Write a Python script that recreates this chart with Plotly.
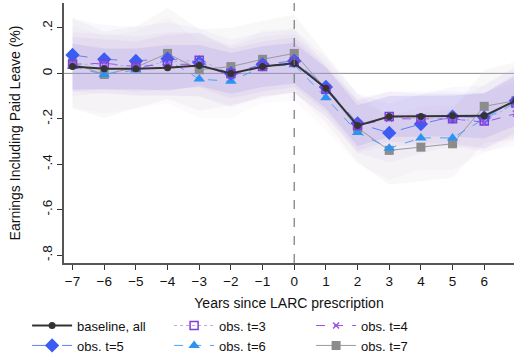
import plotly.graph_objects as go

years = [-7, -6, -5, -4, -3, -2, -1, 0, 1, 2, 3, 4, 5, 6, 7]
x_ticks = [-7, -6, -5, -4, -3, -2, -1, 0, 1, 2, 3, 4, 5, 6, 7]
y_ticks = [0.2, 0, -0.2, -0.4, -0.6, -0.8]
y_tick_text = [".2", "0", "-.2", "-.4", "-.6", "-.8"]

baseline = [0.03, 0.02, 0.02, 0.025, 0.035, 0.0, 0.03, 0.045, -0.065, -0.23, -0.19, -0.19, -0.187, -0.187, -0.12]
obs_t3 = [0.04, 0.04, 0.03, 0.05, 0.058, 0.0, 0.03, 0.05, -0.07, -0.23, -0.19, -0.2, -0.2, -0.21, -0.13]
obs_t4 = [0.04, 0.045, 0.03, 0.04, 0.04, -0.01, 0.03, 0.045, -0.07, -0.23, -0.2, -0.2, -0.2, -0.215, -0.177]
obs_t5 = [0.081, 0.062, 0.055, 0.065, 0.048, 0.0, 0.04, 0.055, -0.06, -0.22, -0.262, -0.223, -0.19, -0.194, -0.12]
obs_t6 = [0.03, -0.005, 0.015, 0.06, -0.025, -0.035, 0.03, 0.038, -0.107, -0.26, -0.33, -0.284, -0.284, -0.2, -0.13]
obs_t7 = [0.045, -0.005, 0.027, 0.088, 0.016, 0.03, 0.062, 0.088, -0.067, -0.24, -0.339, -0.325, -0.31, -0.145, -0.12]

# confidence-interval half widths
hw_base = [0.10, 0.09, 0.09, 0.10, 0.09, 0.09, 0.09, 0.09, 0.09, 0.09, 0.09, 0.09, 0.09, 0.10, 0.11]
hw_t3 = [0.12, 0.11, 0.11, 0.12, 0.12, 0.11, 0.11, 0.11, 0.10, 0.11, 0.11, 0.11, 0.11, 0.12, 0.13]
hw_t4 = [0.14, 0.13, 0.13, 0.14, 0.14, 0.13, 0.13, 0.13, 0.12, 0.12, 0.12, 0.12, 0.12, 0.13, 0.14]
hw_t5 = [0.16, 0.15, 0.15, 0.16, 0.15, 0.15, 0.14, 0.14, 0.13, 0.13, 0.13, 0.13, 0.13, 0.14, 0.15]
hw_t6 = [0.18, 0.17, 0.17, 0.19, 0.17, 0.16, 0.16, 0.16, 0.14, 0.14, 0.14, 0.14, 0.14, 0.15, 0.16]
hw_t7 = [0.20, 0.19, 0.18, 0.20, 0.18, 0.17, 0.17, 0.17, 0.15, 0.15, 0.15, 0.15, 0.15, 0.16, 0.17]

series = [
    dict(name="baseline, all", y=baseline, hw=hw_base, color="#333333", width=2, dash="solid",
         symbol="circle", size=7, band="rgba(125,105,225,0.15)"),
    dict(name="obs. t=3", y=obs_t3, hw=hw_t3, color="#7e3fd6", width=1, dash="dot",
         symbol="square-open", size=8, band="rgba(150,120,215,0.07)", line_color="#b9a8ec"),
    dict(name="obs. t=4", y=obs_t4, hw=hw_t4, color="#9a52e6", width=1, dash="dash",
         symbol="x-thin-open", size=6, band="rgba(190,160,215,0.07)"),
    dict(name="obs. t=5", y=obs_t5, hw=hw_t5, color="#3b5cf2", width=1, dash="longdash",
         symbol="diamond", size=11, band="rgba(140,140,235,0.06)", line_color="#5f80f5"),
    dict(name="obs. t=6", y=obs_t6, hw=hw_t6, color="#2d93f2", width=1, dash="dash",
         symbol="triangle-up", size=10, band="rgba(215,190,215,0.08)", line_color="#4aa6f5"),
    dict(name="obs. t=7", y=obs_t7, hw=hw_t7, color="#8c8c8c", width=1, dash="solid",
         symbol="square", size=9, band="rgba(220,215,220,0.18)", line_color="#9a9a9a"),
]

fig = go.Figure()

# bands, widest first
for s in reversed(series):
    upper = [v + h for v, h in zip(s["y"], s["hw"])]
    lower = [v - h for v, h in zip(s["y"], s["hw"])]
    fig.add_trace(go.Scatter(
        x=years + years[::-1], y=upper + lower[::-1], fill="toself",
        fillcolor=s["band"], line=dict(width=0), mode="lines",
        hoverinfo="skip", showlegend=False))

# reference lines
fig.add_shape(type="line", xref="paper", yref="y", x0=0, x1=1, y0=0, y1=0,
              line=dict(color="#8a8a8a", width=1), layer="below")
fig.add_shape(type="line", xref="x", yref="paper", x0=0, x1=0, y0=0, y1=1,
              line=dict(color="#777777", width=1.2, dash="dash"), layer="above")

draw_order = [5, 4, 3, 2, 1, 0]
for i in draw_order:
    s = series[i]
    fig.add_trace(go.Scatter(
        x=years, y=s["y"], name=s["name"], mode="lines+markers",
        line=dict(color=s.get("line_color", s["color"]), width=s["width"], dash=s["dash"]),
        marker=dict(symbol=s["symbol"], size=s["size"], color=s["color"],
                    line=dict(color=s["color"], width=1.5 if "open" in s["symbol"] else 0)),
        legendrank=i + 1))

fig.update_layout(
    width=514, height=362,
    margin=dict(l=64, r=0, t=3, b=99, autoexpand=False),
    paper_bgcolor="white", plot_bgcolor="white",
    font=dict(family="Liberation Sans, Arial, sans-serif", size=13, color="#111111"),
    showlegend=True,
    legend=dict(orientation="h", x=-0.082, xanchor="left", y=-0.183, yanchor="top",
                entrywidth=87, font=dict(size=13), tracegroupgap=0,
                itemwidth=40, traceorder="normal"),
    xaxis=dict(range=[-7.27, 6.94], tickvals=x_ticks, ticks="outside", ticklen=5,
               tickcolor="#333", showline=True, linecolor="#555", linewidth=1.5,
               showgrid=False, zeroline=False, tickfont=dict(size=13.5),
               title=dict(text="Years since LARC prescription", font=dict(size=14), standoff=10)),
    yaxis=dict(range=[-0.835, 0.31], tickvals=y_ticks, ticktext=y_tick_text, tickangle=-90,
               ticks="outside", ticklen=5, tickcolor="#333", showline=True, linecolor="#555",
               linewidth=1.5, showgrid=False, zeroline=False, tickfont=dict(size=13.5),
               title=dict(text="Earnings Including Paid Leave (%)", font=dict(size=14), standoff=16)),
)

fig.write_html("out.html", config={"displayModeBar": False},
               post_script="document.body.style.margin='0';document.body.style.overflow='hidden';")
